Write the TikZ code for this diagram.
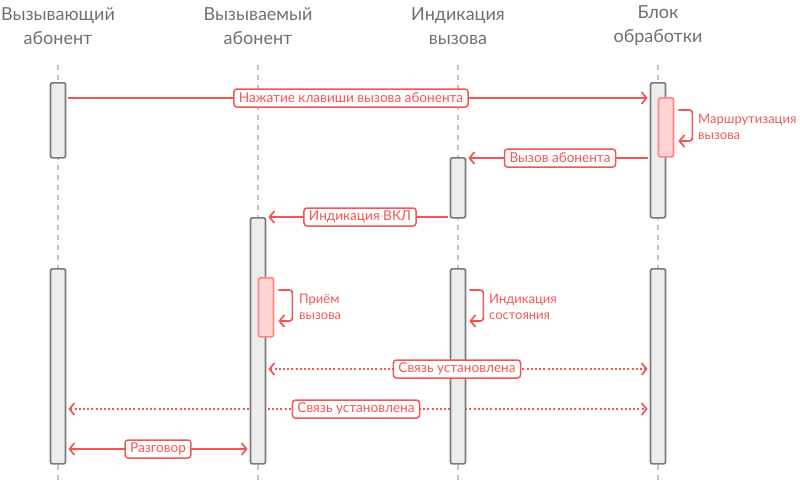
\documentclass[tikz,border=0pt]{standalone}
\usepackage{fontspec}
\setmainfont{Lato}
\usetikzlibrary{arrows.meta,calc}
\definecolor{redc}{HTML}{F25757}
\definecolor{barline}{HTML}{7A7A7A}
\definecolor{barfill}{HTML}{EDEDED}
\definecolor{rline}{HTML}{FF8585}
\definecolor{rfill}{HTML}{FFD3D3}
\definecolor{lifec}{HTML}{C4C4C4}
\definecolor{hdrc}{HTML}{707070}
\pgfdeclarelayer{bg}
\pgfsetlayers{bg,main}
\begin{document}
\begin{tikzpicture}[x=1pt,y=-1pt,
  lifeline/.style={draw=lifec, line width=1.2pt, dash pattern=on 5pt off 5pt},
  hdr/.style={text=hdrc, font=\fontsize{18}{24}\selectfont, align=center},
  bar/.style={draw=barline, fill=barfill, line width=1.7pt, rounded corners=2pt,
    minimum width=15pt, inner sep=0pt, anchor=north},
  rbar/.style={bar, draw=rline, fill=rfill},
  msg/.style={draw=redc, line width=1.7pt, -{Straight Barb[length=5pt,width=12pt]}},
  bimsg/.style={msg, {Straight Barb[length=5pt,width=12pt]}-{Straight Barb[length=5pt,width=12pt]}},
  dotmsg/.style={bimsg, dash pattern=on 2pt off 2.2pt},
  selfmsg/.style={msg, rounded corners=3pt},
  lbl/.style={draw=redc, fill=white, line width=1.5pt, rounded corners=3pt, text=redc,
    font=\fontsize{13.6}{15}\selectfont, inner xsep=5pt, inner ysep=0pt, minimum height=18pt},
  note/.style={text=redc, font=\fontsize{13}{16.5}\selectfont, align=left, anchor=west, inner sep=0pt}
]
\useasboundingbox (0,0) rectangle (800,480);

% headers
\node[hdr] (h1) at (58,26) {Вызывающий\\абонент};
\node[hdr] (h2) at (258,26) {Вызываемый\\абонент};
\node[hdr] (h3) at (458,26) {Индикация\\вызова};
\node[hdr] (h4) at (658,26) {Блок\\обработки};

% lifeline ends
\coordinate (t1) at (58,65); \coordinate (e1) at (58,480);
\coordinate (t2) at (258,65); \coordinate (e2) at (258,480);
\coordinate (t3) at (458,65); \coordinate (e3) at (458,480);
\coordinate (t4) at (658,65); \coordinate (e4) at (658,480);

% activation bars
\node[bar, minimum height=75pt] (a1) at (58,82) {};
\node[bar, minimum height=195pt] (a2) at (58,268) {};
\node[bar, minimum height=246pt] (b1) at (258,217) {};
\node[rbar, minimum height=59pt] (b1r) at (266,277) {};
\node[bar, minimum height=60pt] (c1) at (458,157) {};
\node[bar, minimum height=195pt] (c2) at (458,268) {};
\node[bar, minimum height=135pt] (d1) at (658,82) {};
\node[rbar, minimum height=59pt] (d1r) at (666,97) {};
\node[bar, minimum height=195pt] (d2) at (658,268) {};

% row coordinates
\coordinate (r1) at (0,98);
\coordinate (r2) at (0,158);
\coordinate (r3) at (0,217);
\coordinate (r4) at (0,369);
\coordinate (r5) at (0,409);
\coordinate (r6) at (0,449);
\coordinate (s1) at (0,110);
\coordinate (s2) at (0,290);

\begin{pgfonlayer}{bg}
  \draw[lifeline] (t1) -- (e1);
  \draw[lifeline] (t2) -- (e2);
  \draw[lifeline] (t3) -- (e3);
  \draw[lifeline] (t4) -- (e4);
  \draw[msg] ($(a1.east |- r1)+(2,0)$) -- ($(d1.west |- r1)+(-2,0)$);
  \draw[msg] ($(d1.west |- r2)+(-2,0)$) -- ($(c1.east |- r2)+(2,0)$);
  \draw[msg] ($(c1.west |- r3)+(-2,0)$) -- ($(b1.east |- r3)+(2,0)$);
  \draw[dotmsg] ($(b1.east |- r4)+(2,0)$) -- ($(d2.west |- r4)+(-2,0)$);
  \draw[dotmsg] ($(a2.east |- r5)+(2,0)$) -- ($(d2.west |- r5)+(-2,0)$);
  \draw[bimsg] ($(a2.east |- r6)+(2,0)$) -- ($(b1.west |- r6)+(-2,0)$);
  \draw[selfmsg] ($(d1r.east |- s1)+(4,0)$) -- ++(14,0) -- ++(0,31) -- ++(-14,0);
  \draw[selfmsg] ($(b1r.east |- s2)+(4,0)$) -- ++(14,0) -- ++(0,31) -- ++(-14,0);
  \draw[selfmsg] ($(c2.east |- s2)+(3,0)$) -- ++(14,0) -- ++(0,31) -- ++(-14,0);
\end{pgfonlayer}

% labels
\node[lbl] (m1) at (351,98) {Нажатие клавиши вызова абонента};
\node[lbl] (m2) at (560,158) {Вызов абонента};
\node[lbl] (m3) at (360,217) {Индикация ВКЛ};
\node[lbl] (m4) at (457,369) {Связь установлена};
\node[lbl] (m5) at (356,409) {Связь установлена};
\node[lbl] (m6) at (158,449) {Разговор};

\node[note] (n1) at (698,127) {Маршрутизация\\вызова};
\node[note] (n2) at (299,307) {Приём\\вызова};
\node[note] (n3) at (489,307) {Индикация\\состояния};
\end{tikzpicture}
\end{document}
